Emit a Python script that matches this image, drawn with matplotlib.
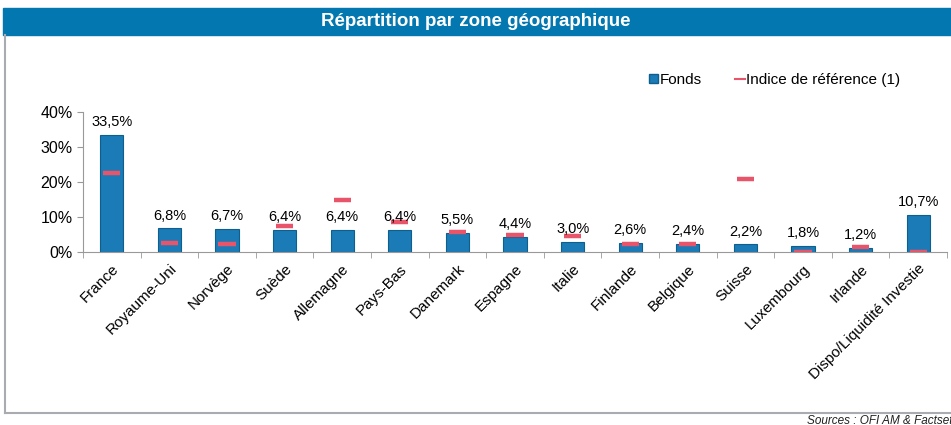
# Repartition par zone geographique - fonds vs indice

import numpy as np
from matplotlib import pyplot as plt
from matplotlib.patches import Patch, Rectangle
from matplotlib.lines import Line2D

plt.rcParams['font.family'] = ['Liberation Sans', 'DejaVu Sans']

zones = ['France', 'Royaume-Uni', 'Norvège', 'Suède', 'Allemagne', 'Pays-Bas',
         'Danemark', 'Espagne', 'Italie', 'Finlande', 'Belgique', 'Suisse',
         'Luxembourg', 'Irlande', 'Dispo/Liquidité Investie']
fonds = [33.5, 6.8, 6.7, 6.4, 6.4, 6.4, 5.5, 4.4, 3.0, 2.6, 2.4, 2.2, 1.8, 1.2, 10.7]
indice = [22.6, 2.6, 2.2, 7.5, 15.0, 8.5, 5.6, 4.9, 4.6, 2.4, 2.3, 21.0, 0.1, 1.3, 0.1]
yticks = [0, 10, 20, 30, 40]

blue = '#1a7bb6'
red = '#e8546a'

fig = plt.figure(figsize=(9.51, 4.25), dpi=100)

# title band
fig.patches.append(Rectangle((0.003, 0.917), 0.997, 0.064, transform=fig.transFigure,
                             color='#0277b0', zorder=0))
fig.text(0.5, 0.949, 'Répartition par zone géographique', color='white',
         fontsize=13.5, fontweight='bold', ha='center', va='center')
# frame lines (left and bottom)
fig.add_artist(Line2D([0.0055, 0.0055], [0.028, 0.917], color='#a8acb0', lw=1.5))
fig.add_artist(Line2D([0.0055, 1.0], [0.028, 0.028], color='#a8acb0', lw=1.5))
fig.text(0.849, -0.004, 'Sources : OFI AM & Factset', fontsize=8.5, style='italic',
         ha='left', va='bottom', color='#222222')

ax = fig.add_axes([0.0873, 0.407, 0.9085, 0.3295])
x = np.arange(len(zones))
ax.bar(x, fonds, width=0.4, color=blue, edgecolor='#0e5e8e', linewidth=0.8, zorder=2)
ax.hlines(indice, x - 0.15, x + 0.15, color=red, lw=3.2, zorder=3)

for xi, v in zip(x, fonds):
    ax.text(xi, v + 1.6, ('%.1f%%' % v).replace('.', ','), ha='center', va='bottom',
            fontsize=10.5)

ax.set_xlim(-0.5, len(zones) - 0.5)
ax.set_ylim(0, 40)
ax.set_yticks(yticks)
ax.set_yticklabels(['%d%%' % t for t in yticks], fontsize=11.5)
ax.set_xticks(x)
ax.set_xticklabels(zones, rotation=45, ha='right', rotation_mode='anchor', fontsize=11)
ax.tick_params(axis='x', length=0, pad=7)
ax.set_xticks(np.arange(-0.5, len(zones), 1.0), minor=True)
ax.tick_params(axis='x', which='minor', length=4, color='#999999')
ax.tick_params(axis='y', length=4, color='#999999')
for s in ['top', 'right']:
    ax.spines[s].set_visible(False)
ax.spines['left'].set_color('#999999')
ax.spines['bottom'].set_color('#999999')

handles = [Patch(facecolor=blue, edgecolor='#0e5e8e'),
           Line2D([0], [0], color=red, lw=1.5)]
fig.legend(handles, ['Fonds', 'Indice de référence (1)'], loc='center left',
           bbox_to_anchor=(0.668, 0.812), ncol=2, frameon=False, fontsize=11,
           handlelength=0.6, handleheight=0.6, handletextpad=0.1, columnspacing=2.2)

plt.savefig('out.png', dpi=100)
